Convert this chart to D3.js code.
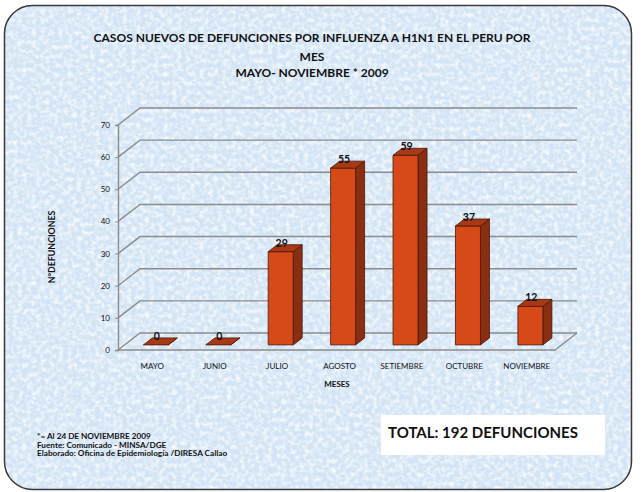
<!DOCTYPE html>
<html>
<head>
<meta charset="utf-8">
<script src="https://cdn.jsdelivr.net/npm/d3@7"></script>
<style>
  html, body { margin: 0; padding: 0; background: #fff; }
  svg text { font-family: Lato, "Open Sans", sans-serif; }
</style>
</head>
<body>
<div id="chart"></div>
<script>
// datos
var meses = ["MAYO", "JUNIO", "JULIO", "AGOSTO", "SETIEMBRE", "OCTUBRE", "NOVIEMBRE"];
var defunciones = [0, 0, 29, 55, 59, 37, 12];
var yTicks = [0, 10, 20, 30, 40, 50, 60, 70];
var titulo = ["CASOS NUEVOS DE DEFUNCIONES POR INFLUENZA A H1N1 EN EL PERU POR", "MES", "MAYO- NOVIEMBRE * 2009"];
var notas = ["*= Al  24  DE NOVIEMBRE  2009", "Fuente: Comunicado - MINSA/DGE", "Elaborado: Oficina de Epidemiología /DIRESA Callao"];
var total = "TOTAL: 192 DEFUNCIONES";

var width = 644, height = 492;
var plot = { left: 118, right: 555, bottom: 350, top: 125 };
var depth = { dx: 22, dy: -17 };   // profundidad del piso 3D
var barFront = 0.3, barBack = 0.71; // posicion de la barra en la profundidad

var svg = d3.select("#chart").append("svg")
    .attr("width", width)
    .attr("height", height);

var defs = svg.append("defs");
var filt = defs.append("filter").attr("id", "textura")
    .attr("x", 0).attr("y", 0).attr("width", 1).attr("height", 1);
filt.append("feTurbulence")
    .attr("type", "fractalNoise")
    .attr("baseFrequency", 0.22)
    .attr("numOctaves", 3)
    .attr("seed", 4)
    .attr("result", "ruido");
filt.append("feColorMatrix")
    .attr("in", "ruido")
    .attr("type", "matrix")
    .attr("values", "0 0 0 0 1  0 0 0 0 1  0 0 0 0 1  0 0 1.8 0 -0.7")
    .attr("result", "manchas");
filt.append("feComposite").attr("in", "manchas").attr("in2", "SourceGraphic").attr("operator", "atop");

// fondo
var fondo = { x: 4.5, y: 5.5, w: 627, h: 484, r: 28 };
svg.append("rect")
    .attr("x", fondo.x).attr("y", fondo.y)
    .attr("width", fondo.w).attr("height", fondo.h)
    .attr("rx", fondo.r).attr("ry", fondo.r)
    .attr("fill", "#d2e4f5");
svg.append("rect")
    .attr("x", fondo.x).attr("y", fondo.y)
    .attr("width", fondo.w).attr("height", fondo.h)
    .attr("rx", fondo.r).attr("ry", fondo.r)
    .attr("fill", "#d2e4f5")
    .attr("filter", "url(#textura)");
svg.append("rect")
    .attr("x", fondo.x).attr("y", fondo.y)
    .attr("width", fondo.w).attr("height", fondo.h)
    .attr("rx", fondo.r).attr("ry", fondo.r)
    .attr("fill", "none")
    .attr("stroke", "#3a3a3a")
    .attr("stroke-width", 1.5);

var x = d3.scaleBand()
    .domain(meses)
    .range([plot.left, plot.right])
    .paddingInner(0.6)
    .paddingOuter(0.3);

var y = d3.scaleLinear()
    .domain([0, 70])
    .range([plot.bottom, plot.top]);

// rejilla
var grid = svg.append("g").attr("fill", "none").attr("stroke", "#8c8c8c").attr("stroke-width", 1.4);
yTicks.forEach(function (v) {
    grid.append("path")
        .attr("d", "M" + plot.left + "," + y(v) +
            "L" + (plot.left + depth.dx) + "," + (y(v) + depth.dy) +
            "L" + (plot.right + depth.dx) + "," + (y(v) + depth.dy));
});
grid.append("path")
    .attr("d", "M" + plot.left + "," + y(0) + "L" + plot.right + "," + y(0) +
        "L" + (plot.right + depth.dx) + "," + (y(0) + depth.dy));

// eje y
var yAxis = svg.append("g")
    .attr("transform", "translate(" + plot.left + ",0)")
    .call(d3.axisLeft(y).tickValues(yTicks).tickSize(3).tickPadding(5));
yAxis.select(".domain").attr("stroke", "#8c8c8c").attr("stroke-width", 1.4);
yAxis.selectAll(".tick line").attr("stroke", "#8c8c8c");
yAxis.selectAll(".tick text").attr("font-size", 8).attr("fill", "#111")
    .attr("font-family", "Lato, sans-serif");

// barras 3D
var fx = depth.dx * barFront, fy = depth.dy * barFront;
var bx = depth.dx * barBack, by = depth.dy * barBack;
var datos = meses.map(function (m, i) { return { mes: m, valor: defunciones[i] }; });

var bars = svg.append("g").selectAll("g").data(datos).enter().append("g")
    .attr("stroke", "#4a1606").attr("stroke-width", 0.8).attr("stroke-linejoin", "round");

bars.append("path")
    .attr("fill", "#8a2e12")
    .attr("d", function (d) {
        var x1 = x(d.mes) + x.bandwidth() + fx, yt = y(d.valor) + fy, yb = y(0) + fy;
        var ddx = bx - fx, ddy = by - fy;
        return "M" + x1 + "," + yb + "L" + x1 + "," + yt +
            "L" + (x1 + ddx) + "," + (yt + ddy) + "L" + (x1 + ddx) + "," + (yb + ddy) + "Z";
    });
bars.append("rect")
    .attr("fill", "#d64a19")
    .attr("x", function (d) { return x(d.mes) + fx; })
    .attr("y", function (d) { return y(d.valor) + fy; })
    .attr("width", x.bandwidth())
    .attr("height", function (d) { return y(0) - y(d.valor); });
bars.append("path")
    .attr("fill", "#a93816")
    .attr("d", function (d) {
        var x0 = x(d.mes) + fx, x1 = x0 + x.bandwidth(), yt = y(d.valor) + fy;
        var ddx = bx - fx, ddy = by - fy;
        return "M" + x0 + "," + yt + "L" + x1 + "," + yt +
            "L" + (x1 + ddx) + "," + (yt + ddy) + "L" + (x0 + ddx) + "," + (yt + ddy) + "Z";
    });

// etiquetas de valor
svg.append("g").selectAll("text").data(datos).enter().append("text")
    .attr("x", function (d) { return x(d.mes) + fx + x.bandwidth() / 2 + 1; })
    .attr("y", function (d) { return y(d.valor) + fy - 5; })
    .attr("text-anchor", "middle")
    .attr("font-size", 10.5)
    .attr("font-weight", "bold")
    .attr("fill", "#111")
    .text(function (d) { return d.valor; });

// etiquetas del eje x
svg.append("g").selectAll("text").data(meses).enter().append("text")
    .attr("x", function (d) { return x(d) + x.bandwidth() / 2 + 3; })
    .attr("y", 369)
    .attr("text-anchor", "middle")
    .attr("font-size", 8)
    .attr("fill", "#111")
    .text(function (d) { return d; });

svg.append("text")
    .attr("x", 337).attr("y", 387)
    .attr("text-anchor", "middle")
    .attr("font-size", 8).attr("font-weight", "bold").attr("fill", "#111")
    .text("MESES");

svg.append("text")
    .attr("transform", "translate(55,247) rotate(-90)")
    .attr("text-anchor", "middle")
    .attr("font-size", 8.8).attr("font-weight", "bold").attr("fill", "#111")
    .text("N°DEFUNCIONES");

// titulo
var tituloY = [42, 61, 77];
svg.append("g").selectAll("text").data(titulo).enter().append("text")
    .attr("x", 312)
    .attr("y", function (d, i) { return tituloY[i]; })
    .attr("text-anchor", "middle")
    .attr("font-size", 12)
    .attr("font-weight", "bold")
    .attr("fill", "#111")
    .text(function (d) { return d; });

// notas
svg.append("g").selectAll("text").data(notas).enter().append("text")
    .attr("x", 37)
    .attr("y", function (d, i) { return 439 + i * 8.7; })
    .attr("font-size", 8.2)
    .attr("font-weight", "bold")
    .attr("fill", "#111")
    .text(function (d) { return d; });

// total
svg.append("rect")
    .attr("x", 381).attr("y", 415)
    .attr("width", 224).attr("height", 40)
    .attr("fill", "#fff");
svg.append("text")
    .attr("x", 388).attr("y", 438)
    .attr("font-size", 15)
    .attr("font-weight", "bold")
    .attr("fill", "#111")
    .text(total);
</script>
</body>
</html>
